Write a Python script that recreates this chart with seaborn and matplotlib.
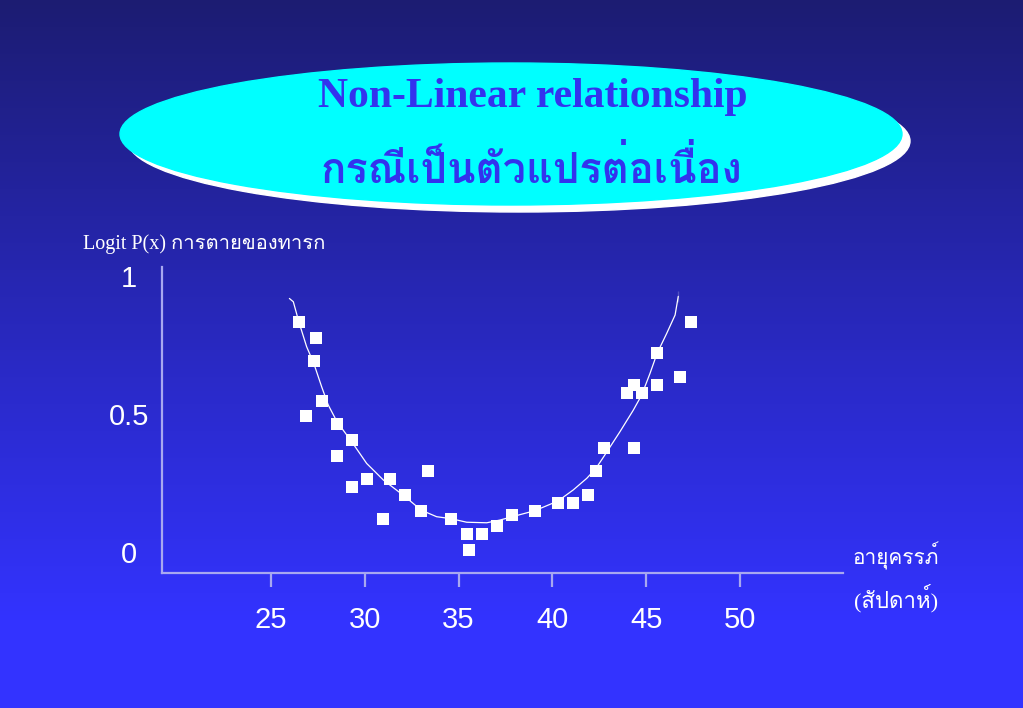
import matplotlib
matplotlib.use('Agg')
import matplotlib.pyplot as plt
from matplotlib import font_manager
from matplotlib.ft2font import FT2Font
from matplotlib.patches import Ellipse
import seaborn as sns
import numpy as np
import pandas as pd

# observed points: gestational age (weeks) vs logit P(x)
age_weeks = [26.49, 27.40, 27.28, 27.70, 26.88, 28.52, 29.30, 28.52, 30.13, 31.34,
             29.32, 33.38, 32.16, 33.00, 30.95, 34.59, 35.43, 35.57, 36.23, 37.05,
             37.86, 39.07, 40.30, 41.10, 41.91, 42.32, 42.73, 44.37, 43.96, 44.37,
             44.76, 45.58, 45.58, 46.80, 47.40]
logit_p = [0.833, 0.776, 0.692, 0.548, 0.492, 0.463, 0.406, 0.349, 0.264, 0.264,
           0.234, 0.292, 0.207, 0.150, 0.121, 0.121, 0.064, 0.007, 0.064, 0.094,
           0.133, 0.150, 0.179, 0.179, 0.207, 0.292, 0.378, 0.378, 0.577, 0.606,
           0.577, 0.606, 0.720, 0.634, 0.834]

# smoothed curve
fit_age = [25.98, 26.19, 26.49, 26.90, 27.28, 27.70, 28.05, 28.52, 29.30, 30.10,
           30.99, 32.16, 33.00, 33.83, 34.59, 35.43, 36.50, 37.21, 37.86, 39.07,
           40.30, 41.11, 41.83, 42.32, 42.73, 43.60, 44.31, 44.76, 45.20, 45.58,
           46.09, 46.54, 46.71, 46.71]
fit_logit = [0.919, 0.907, 0.833, 0.744, 0.684, 0.599, 0.533, 0.472, 0.400, 0.321,
             0.261, 0.200, 0.152, 0.128, 0.121, 0.108, 0.106, 0.116, 0.128, 0.150,
             0.185, 0.225, 0.267, 0.303, 0.345, 0.436, 0.514, 0.569, 0.647, 0.720,
             0.792, 0.859, 0.907, 0.946]

x_ticks = [25, 30, 35, 40, 45, 50]
y_ticks = [0, 0.5, 1]
y_labels = ['0', '0.5', '1']

title_en = 'Non-Linear relationship'
title_th = 'กรณีเป็นตัวแปรต่อเนื่อง'
y_title = 'Logit P(x) การตายของทารก'
x_title1 = 'อายุครรภ์'
x_title2 = '(สัปดาห์)'


def find_thai_fonts():
    found = []
    for f in font_manager.fontManager.ttflist:
        try:
            if 0x0E01 in FT2Font(f.fname).get_charmap():
                found.append(f.name)
        except Exception:
            pass
    return found


sns.set_theme(style='white')
thai = find_thai_fonts()
thai_font = thai[0] if thai else 'DejaVu Sans'
serif_fam = ['Liberation Serif', thai_font, 'DejaVu Sans']
plt.rcParams['font.family'] = ['Liberation Sans', thai_font, 'DejaVu Sans']

fig = plt.figure(figsize=(10.23, 7.08), dpi=100)

# background layer in pixel coordinates
bg = fig.add_axes([0, 0, 1, 1])
bg.set_xlim(0, 1023)
bg.set_ylim(708, 0)
bg.axis('off')
t = np.clip(np.linspace(0, 708, 708) / 620, 0, 1)
top = np.array([28, 28, 114]) / 255
bot = np.array([51, 51, 255]) / 255
grad = (top[None, :] * (1 - t[:, None]) + bot[None, :] * t[:, None])[:, None, :]
bg.imshow(grad, extent=[0, 1023, 708, 0], aspect='auto', zorder=0)

bg.add_patch(Ellipse((519, 141), 782, 142, color='white', zorder=1))
bg.add_patch(Ellipse((511, 134), 782, 142, color='#00ffff', zorder=2))
bg.text(533, 97, title_en, ha='center', va='center', fontsize=30, fontweight='bold',
        color='#3333ee', family=serif_fam, zorder=3)
bg.text(531, 170, title_th, ha='center', va='center', fontsize=30, fontweight='bold',
        color='#3333ee', family=serif_fam, zorder=3)
bg.text(83, 244, y_title, ha='left', va='center', fontsize=14.5, color='white',
        family=serif_fam)
bg.text(896, 556, x_title1, ha='center', va='center', fontsize=15, color='white',
        family=serif_fam)
bg.text(896, 598, x_title2, ha='center', va='center', fontsize=16, color='white',
        family=serif_fam)

# the chart
ax = fig.add_axes([162 / 1023, (708 - 573) / 708, 681 / 1023, 306 / 708])
ax.patch.set_alpha(0)
sns.lineplot(x=fit_age, y=fit_logit, sort=False, color='white', linewidth=0.9, ax=ax)
sns.scatterplot(x=age_weeks, y=logit_p, marker='s', s=70, color='white',
                linewidth=0, ax=ax, zorder=3)

ax.set_xlim(19.19, 55.49)
ax.set_ylim(-0.076, 1.033)
axis_col = '#a8a8f0'
for side in ['top', 'right']:
    ax.spines[side].set_visible(False)
for side in ['left', 'bottom']:
    ax.spines[side].set_color(axis_col)
    ax.spines[side].set_linewidth(1.6)

ax.set_xticks(x_ticks)
ax.set_xticklabels([str(v) for v in x_ticks])
ax.tick_params(axis='x', direction='out', length=10, width=1.6, color=axis_col,
               labelcolor='white', labelsize=21, pad=14, bottom=True)
ax.set_yticks(y_ticks)
ax.set_yticklabels(y_labels)
ax.tick_params(axis='y', length=0, labelcolor='white', labelsize=21, pad=24, left=False)
for lab in ax.get_yticklabels():
    lab.set_horizontalalignment('center')
ax.set_xlabel('')
ax.set_ylabel('')

fig.savefig('out.png', dpi=100)
